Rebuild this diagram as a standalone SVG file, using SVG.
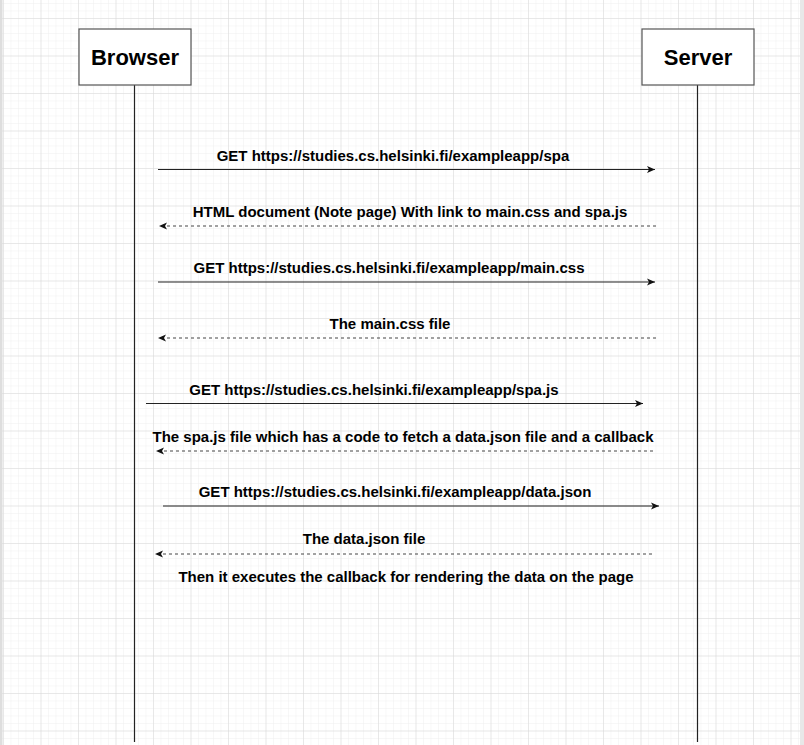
<svg xmlns="http://www.w3.org/2000/svg" width="804" height="745" viewBox="0 0 804 745">
<defs>
<pattern id="minor" patternUnits="userSpaceOnUse" x="3" y="3" width="7.5" height="7.5">
<path d="M0,0 V7.5 M0,0 H7.5" fill="none" stroke="#f0f0f0" stroke-width="1"/>
</pattern>
<pattern id="major" patternUnits="userSpaceOnUse" x="3" y="18" width="37.5" height="37.5">
<path d="M0,0 V37.5 M0,0 H37.5" fill="none" stroke="#d9d9d9" stroke-width="1"/>
</pattern>
<marker id="arr" markerUnits="userSpaceOnUse" markerWidth="10" markerHeight="8" refX="8" refY="4" orient="auto">
<path d="M0,0.5 L8,4 L0,7.5 L2,4 Z" fill="#111"/>
</marker>
<style>
.box{fill:#fff;stroke:#555;stroke-width:1.2}
.title{font-family:"Liberation Sans",Arial,sans-serif;font-weight:bold;font-size:22px;fill:#000;text-anchor:middle}
.life{stroke:#222;stroke-width:1.2;fill:none}
.msg{stroke:#222;stroke-width:1.2;fill:none;marker-end:url(#arr)}
.ret{stroke:#444;stroke-width:1;stroke-dasharray:3 3;fill:none;marker-end:url(#arr)}
.lbl{font-family:"Liberation Sans",Arial,sans-serif;font-weight:bold;font-size:15px;fill:#000;text-anchor:middle}
</style>
</defs>
<rect width="804" height="745" fill="#fff"/>
<rect width="804" height="745" fill="url(#minor)"/>
<rect width="804" height="745" fill="url(#major)"/>
<rect x="0" y="0" width="2.5" height="745" fill="#dedede"/>
<rect x="800" y="0" width="4" height="745" fill="#e8e8e8"/>

<g id="browser">
<line class="life" x1="134.5" y1="85" x2="134.5" y2="742"/>
<rect class="box" x="79" y="29" width="112" height="56"/>
<text class="title" x="135" y="65">Browser</text>
</g>
<g id="server">
<line class="life" x1="697.5" y1="85" x2="697.5" y2="742"/>
<rect class="box" x="642" y="29" width="112" height="56"/>
<text class="title" x="698" y="65">Server</text>
</g>

<g id="connectors">
<line class="msg" x1="158" y1="169.5" x2="655" y2="169.5"/>
<line class="ret" x1="656" y1="226" x2="159" y2="226"/>
<line class="msg" x1="158" y1="282" x2="655" y2="282"/>
<line class="ret" x1="656" y1="338" x2="158" y2="338"/>
<line class="msg" x1="146" y1="403.5" x2="643" y2="403.5"/>
<line class="ret" x1="653" y1="451" x2="156" y2="451"/>
<line class="msg" x1="163" y1="506" x2="659" y2="506"/>
<line class="ret" x1="652" y1="554" x2="155" y2="554"/>
</g>

<g id="labels">
<text class="lbl" x="393" y="161">GET https://studies.cs.helsinki.fi/exampleapp/spa</text>
<text class="lbl" x="410" y="217">HTML document (Note page) With link to main.css and spa.js</text>
<text class="lbl" x="389" y="273">GET https://studies.cs.helsinki.fi/exampleapp/main.css</text>
<text class="lbl" x="390" y="329">The main.css file</text>
<text class="lbl" x="374" y="395">GET https://studies.cs.helsinki.fi/exampleapp/spa.js</text>
<text class="lbl" x="403" y="442">The spa.js file which has a code to fetch a data.json file and a callback</text>
<text class="lbl" x="395" y="497">GET https://studies.cs.helsinki.fi/exampleapp/data.json</text>
<text class="lbl" x="364" y="544">The data.json file</text>
<text class="lbl" x="406" y="582">Then it executes the callback for rendering the data on the page</text>
</g>
</svg>
